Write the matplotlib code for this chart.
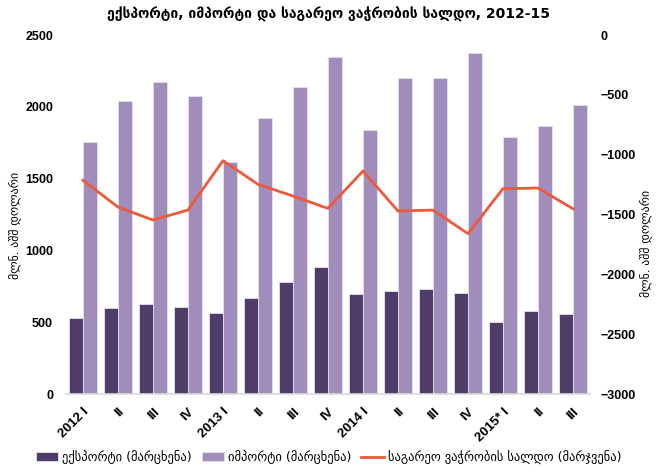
import matplotlib
matplotlib.use("Agg")
import matplotlib.pyplot as plt
import numpy as np

plt.rcParams['font.family'] = ['DejaVu Sans']

categories = ["2012 I", "II", "III", "IV", "2013 I", "II", "III", "IV",
              "2014 I", "II", "III", "IV", "2015* I", "II", "III"]
exports = [535, 600, 626, 607, 565, 670, 781, 890, 697, 723, 734, 708, 502, 579, 562]
imports = [1754, 2041, 2175, 2076, 1619, 1925, 2136, 2345, 1840, 2199, 2199, 2373, 1790, 1865, 2013]
balance = [-1213, -1436, -1544, -1461, -1049, -1246, -1344, -1447,
           -1135, -1469, -1461, -1658, -1283, -1277, -1450]

title = "ექსპორტი, იმპორტი და საგარეო ვაჭრობის სალდო, 2012-15"
ylabel = "მლნ. აშშ დოლარი"
leg_exp = "ექსპორტი (მარცხენა)"
leg_imp = "იმპორტი (მარცხენა)"
leg_bal = "საგარეო ვაჭრობის სალდო (მარჯვენა)"

c_exp = "#4F3C69"
c_imp = "#A18DBB"
c_bal = "#F0583A"
num_font = ['Liberation Sans', 'DejaVu Sans']

fig = plt.figure(figsize=(6.57, 4.73), dpi=100)
ax = fig.add_axes([0.0997, 0.166, 0.799, 0.760])
x = np.arange(len(categories))
w = 0.4
b1 = ax.bar(x - w/2, exports, w, color=c_exp, edgecolor="#E6E0EE", linewidth=0.6, label=leg_exp, zorder=2)
b2 = ax.bar(x + w/2, imports, w, color=c_imp, edgecolor="#E6E0EE", linewidth=0.6, label=leg_imp, zorder=2)
ax.set_ylim(0, 2500)
ax.set_xlim(-0.5, len(categories) - 0.5)
ax.set_yticks([0, 500, 1000, 1500, 2000, 2500])
for s in ["top", "right", "left"]:
    ax.spines[s].set_visible(False)
ax.spines["bottom"].set_color("#D9D9D9")
ax.spines["bottom"].set_linewidth(1.2)
ax.tick_params(axis="both", length=0, labelsize=9)
for t in ax.get_yticklabels():
    t.set_fontweight("bold")
    t.set_family(num_font)
ax.set_xticks(x)
ax.set_xticklabels(categories, rotation=45, ha="right", rotation_mode="anchor",
                   fontweight="bold", fontsize=9.5, family=num_font)
ax.tick_params(axis="x", pad=8)
ax.tick_params(axis="y", pad=9)
ax.set_ylabel(ylabel, fontsize=8.5)
ax.yaxis.set_label_coords(-0.082, 0.47)

ax2 = ax.twinx()
l1, = ax2.plot(x, balance, color=c_bal, linewidth=2.0, label=leg_bal, zorder=3)
ax2.set_ylim(-3000, 0)
ax2.set_yticks([0, -500, -1000, -1500, -2000, -2500, -3000])
for s in ["top", "right", "left", "bottom"]:
    ax2.spines[s].set_visible(False)
ax2.tick_params(axis="y", length=0, labelsize=9, pad=7)
for t in ax2.get_yticklabels():
    t.set_fontweight("bold")
    t.set_family(num_font)
ax2.set_ylabel(ylabel, fontsize=8.5, rotation=90)
ax2.yaxis.set_label_coords(1.094, 0.42)

fig.suptitle(title, fontsize=10, fontweight="bold", y=0.985)
fig.legend([b1, b2, l1], [leg_exp, leg_imp, leg_bal], loc="lower center",
           bbox_to_anchor=(0.5, -0.005), ncol=3, frameon=False, fontsize=9,
           handlelength=1.8, handletextpad=0.3, columnspacing=0.8)

fig.savefig("out.png", dpi=100)
